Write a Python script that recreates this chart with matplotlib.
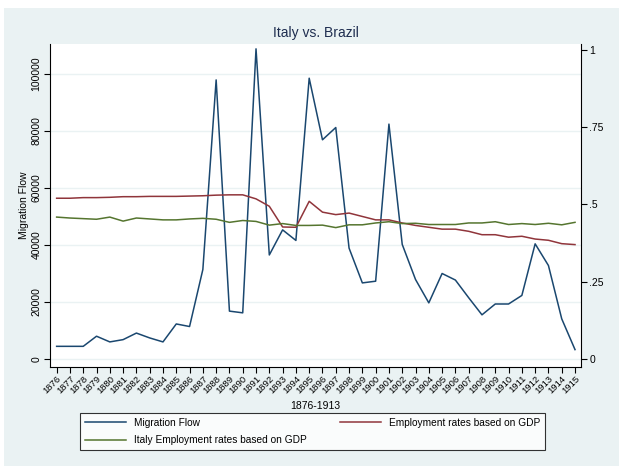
import numpy as np
import matplotlib
matplotlib.use("Agg")
import matplotlib.pyplot as plt
from matplotlib.patches import Rectangle

years = list(range(1876, 1916))

migration_flow = [4450, 4450, 4450, 8000, 6000, 6800, 9100, 7400, 6000, 12300,
                  11400, 31400, 97900, 16800, 16200, 108800, 36500, 45300, 41600, 98500,
                  76900, 81200, 38900, 26700, 27300, 82400, 40200, 27900, 19700, 30000,
                  27700, 21500, 15500, 19300, 19300, 22300, 40400, 32800, 14100, 3300]

employment_gdp = [.520, .520, .522, .522, .523, .525, .525, .526, .526, .526,
                  .527, .528, .530, .531, .531, .518, .494, .427, .426, .510,
                  .475, .467, .472, .461, .450, .450, .440, .432, .426, .420,
                  .420, .413, .402, .402, .394, .397, .388, .384, .373, .370]

italy_employment_gdp = [.459, .456, .454, .452, .459, .446, .456, .453, .450, .450,
                        .453, .455, .452, .442, .448, .445, .433, .438, .432, .432,
                        .433, .425, .434, .434, .440, .444, .438, .439, .435, .435,
                        .435, .440, .440, .444, .435, .438, .435, .439, .434, .442]

left_ticks = [0, 20000, 40000, 60000, 80000, 100000]
right_ticks = [0, .25, .5, .75, 1]
right_labels = ['0', '.25', '.5', '.75', '1']

navy = '#1A476F'
maroon = '#90353B'
green = '#55752F'
bg = '#EAF2F3'
text_col = '#1E2D4F'

plt.rcParams['font.family'] = ['Liberation Sans', 'DejaVu Sans']

fig = plt.figure(figsize=(6.19, 4.66), dpi=100)
fig.patches.append(Rectangle((4 / 619, 0), 1, 1 - 8 / 466, transform=fig.transFigure,
                             facecolor=bg, edgecolor='none', zorder=-10))

ax = fig.add_axes([50 / 619, 1 - 367 / 466, 531 / 619, 323 / 466])
ax.set_facecolor('white')
ax2 = ax.twinx()

l1, = ax.plot(years, migration_flow, color=navy, lw=1.1, label='Migration Flow')
l2, = ax2.plot(years, employment_gdp, color=maroon, lw=1.1, label='Employment rates based on GDP')
l3, = ax2.plot(years, italy_employment_gdp, color=green, lw=1.1, label='Italy Employment rates based on GDP')

ax.set_xlim(1875.5, 1915.45)
ax.set_ylim(-2800, 110500)
ax2.set_ylim(-0.026, 1.019)

ax.set_yticks(left_ticks)
ax.set_yticklabels([str(t) for t in left_ticks], rotation=90, va='center', fontsize=7.5)
ax2.set_yticks(right_ticks)
ax2.set_yticklabels(right_labels, fontsize=7.5)
ax.set_xticks(years)
ax.set_xticklabels([str(y) for y in years], rotation=45, ha='right', rotation_mode='anchor', fontsize=6.8)

ax.grid(axis='y', color=bg, lw=1)
ax.set_axisbelow(True)
for a in (ax, ax2):
    a.spines['top'].set_visible(False)
    a.tick_params(length=4, width=0.8, pad=2, colors='black')
ax.tick_params(axis='x', pad=1)
ax.spines['right'].set_visible(False)
ax2.spines['left'].set_visible(False)
ax2.spines['bottom'].set_visible(False)

ax.set_ylabel('Migration Flow', fontsize=7.5, labelpad=2)
ax.set_xlabel('1876-1913', fontsize=7.5, labelpad=4)
ax.set_title('Italy vs. Brazil', fontsize=10, color=text_col, pad=5)

leg = fig.legend([l1, l3, l2], [l1.get_label(), l3.get_label(), l2.get_label()],
                 ncol=2, loc='center left', bbox_to_anchor=(80 / 619, 1 - 431.5 / 466),
                 borderaxespad=0, fontsize=7.3, frameon=True, fancybox=False, edgecolor='black',
                 handlelength=4.0, columnspacing=3.3, borderpad=0.5, labelspacing=0.75,
                 handletextpad=0.8)
leg.get_frame().set_linewidth(0.8)

fig.savefig('out.png', dpi=100)
